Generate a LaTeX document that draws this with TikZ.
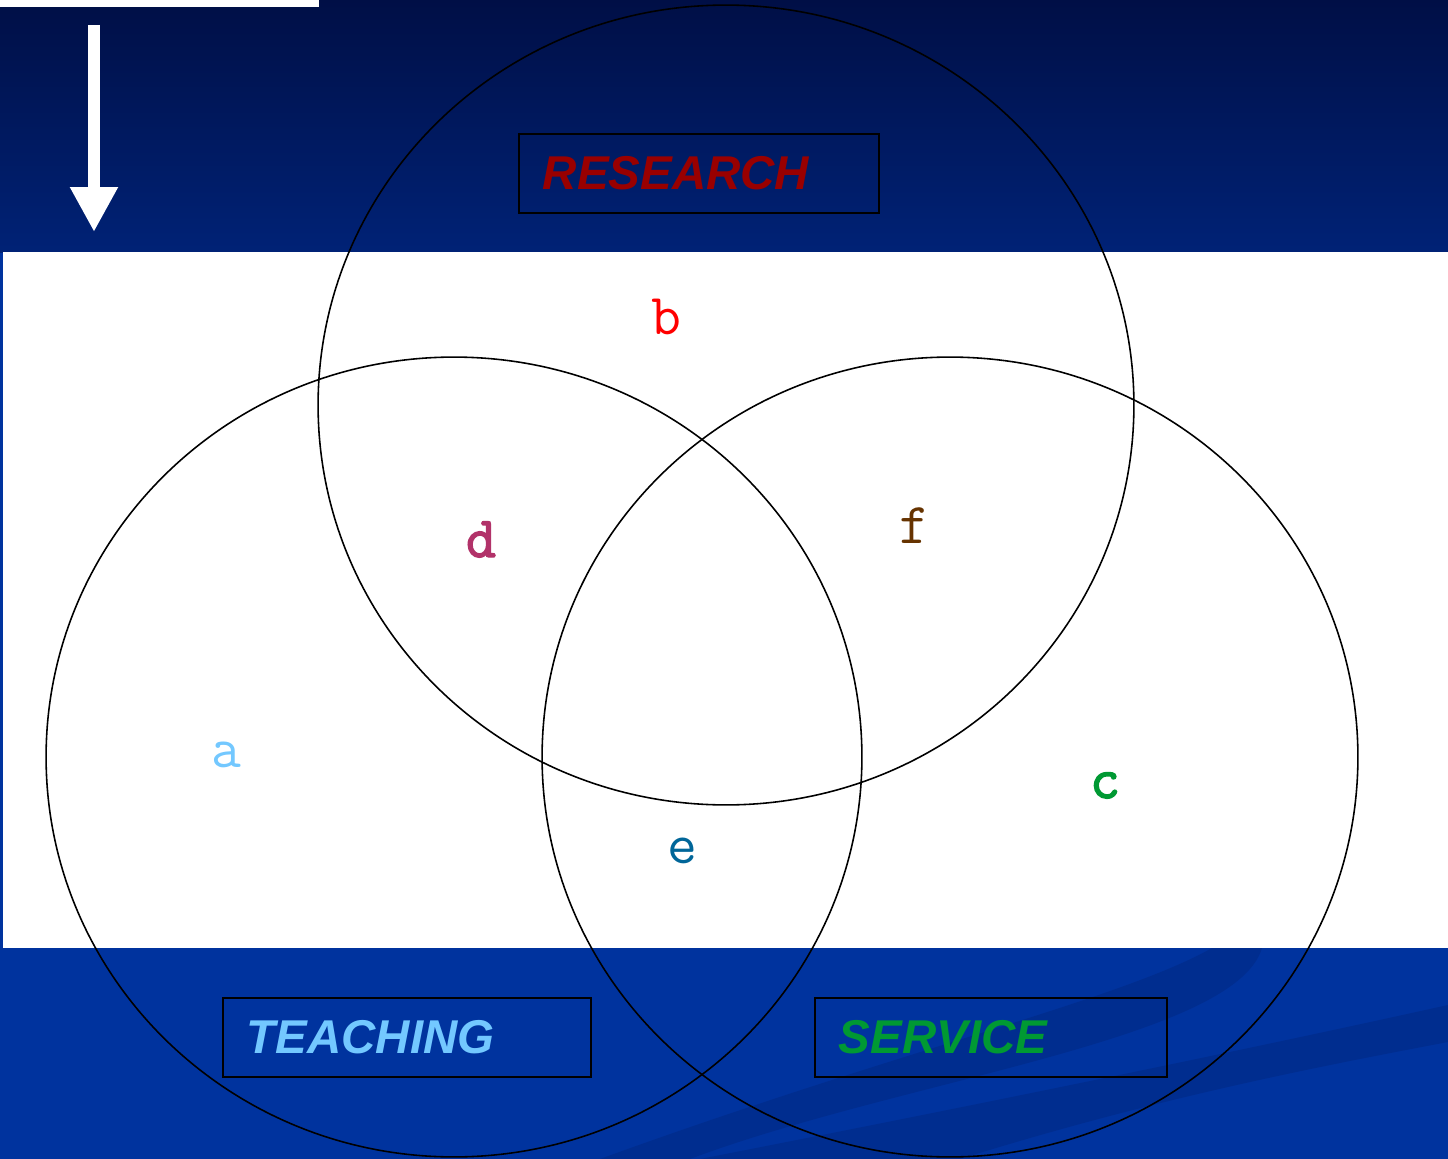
\documentclass[tikz,border=0pt]{standalone}
\usepackage{fontspec}
\newfontfamily\arialfont{Liberation Sans}
\newfontfamily\heavymono[FakeBold=2.5]{Latin Modern Mono}
\usetikzlibrary{arrows.meta}
\definecolor{navytop}{RGB}{0,15,70}
\definecolor{navybot}{RGB}{0,34,118}
\definecolor{slideblue}{RGB}{0,51,158}
\definecolor{swooshblue}{RGB}{0,45,143}
\definecolor{researchred}{RGB}{153,0,0}
\definecolor{teachblue}{RGB}{115,200,255}
\definecolor{servicegreen}{RGB}{0,153,51}
\definecolor{dmagenta}{RGB}{178,50,105}
\definecolor{eblue}{RGB}{0,102,153}
\definecolor{fbrown}{RGB}{102,51,0}
\tikzset{
  labelbox/.style={draw=black, line width=1pt, anchor=north west, minimum height=1.58cm,
    inner xsep=0.48cm, inner ysep=0pt, text width=#1, align=left,
    font=\arialfont\bfseries\itshape\fontsize{27pt}{30pt}\selectfont},
  region/.style={anchor=base, inner sep=0pt, font=\ttfamily\fontsize{33pt}{35pt}\selectfont},
  boldregion/.style={region, font=\heavymono\fontsize{33pt}{35pt}\selectfont},
  venn/.style={draw=black, line width=0.9pt}
}
\begin{document}
\begin{tikzpicture}[x=0.02cm, y=-0.02cm]
  \useasboundingbox (0,0) rectangle (1448,1159);
  \fill[slideblue] (0,0) rectangle (1448,1159);
  \shade[top color=navytop, bottom color=navybot] (0,0) rectangle (1448,252);
  \fill[white] (0,0) rectangle (319,7);
  \fill[white] (3,252) rectangle (1448,948);
  \fill[swooshblue] (1212,948) .. controls (1120,1000) and (900,1050) .. (600,1159)
    -- (690,1159) .. controls (900,1080) and (1235,1040) .. (1262,948) -- cycle;
  \fill[swooshblue] (1448,1005) .. controls (1200,1060) and (900,1120) .. (700,1159)
    -- (960,1159) .. controls (1150,1100) and (1300,1070) .. (1448,1042) -- cycle;
  \coordinate (arrowtail) at (94,25);
  \coordinate (arrowhead) at (94,232);
  \draw[white, line width=0.24cm, -{Triangle[width=0.9cm, length=0.9cm]}] (arrowtail) -- (arrowhead);
  \draw[venn] (726,405) ellipse [x radius=8.16cm, y radius=8cm];
  \draw[venn] (454,757) ellipse [x radius=8.16cm, y radius=8cm];
  \draw[venn] (950,757) ellipse [x radius=8.16cm, y radius=8cm];
  \node[labelbox=6.24cm, text=researchred] (research) at (518,133) {RESEARCH};
  \node[labelbox=6.40cm, text=teachblue] (teaching) at (222,997) {TEACHING};
  \node[labelbox=6.08cm, text=servicegreen] (service) at (814,997) {SERVICE};
  \node[region, text=teachblue] (rega) at (226,767) {a};
  \node[region, text=red] (regb) at (666,334) {b};
  \node[boldregion, text=servicegreen] (regc) at (1105,798) {c};
  \node[boldregion, text=dmagenta] (regd) at (481,557) {d};
  \node[region, text=eblue] (rege) at (682,863) {e};
  \node[region, text=fbrown] (regf) at (914,543) {f};
\end{tikzpicture}
\end{document}
